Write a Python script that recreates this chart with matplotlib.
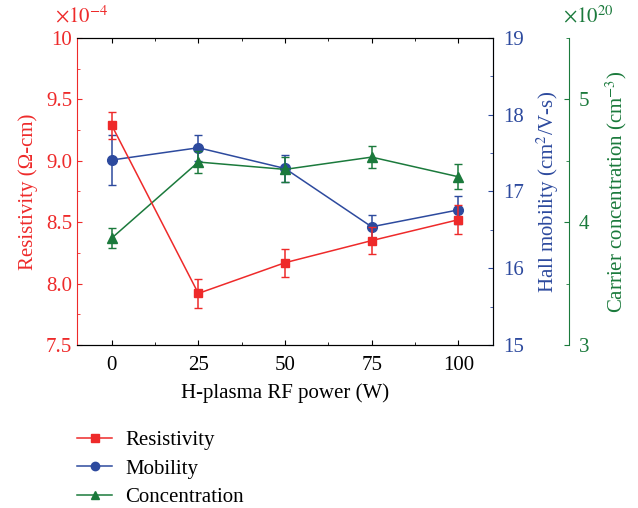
import numpy as np
import matplotlib
matplotlib.use("Agg")
import matplotlib.pyplot as plt
from matplotlib.ticker import MultipleLocator
from matplotlib.lines import Line2D

plt.rcParams['font.family'] = ['Liberation Serif', 'DejaVu Serif']
plt.rcParams['mathtext.fontset'] = 'stix'

# data
power = [0, 25, 50, 75, 100]
resistivity = [9.29, 7.92, 8.17, 8.35, 8.52]      # x1e-4 ohm-cm
resistivity_err = [0.11, 0.12, 0.115, 0.11, 0.12]
mobility = [17.41, 17.57, 17.30, 16.54, 16.76]    # cm2/V-s
mobility_err = [0.32, 0.17, 0.18, 0.15, 0.18]
concentration = [3.87, 4.49, 4.43, 4.53, 4.37]    # x1e20 cm-3
concentration_err = [0.08, 0.09, 0.10, 0.09, 0.10]
labels = ["Resistivity", "Mobility", "Concentration"]

red = "#ee2a2a"
blue = "#2d4a9e"
green = "#1b7a3c"
fs = 15

fig = plt.figure(figsize=(6.38, 5.08), dpi=100)
ax = fig.add_axes([0.1207, 0.3209, 0.652, 0.6043])
ax2 = ax.twinx()
ax3 = ax.twinx()

ax.errorbar(power, resistivity, yerr=resistivity_err, color=red, marker='s', ms=6,
            lw=1.1, capsize=3, elinewidth=1.1, zorder=3)
ax2.errorbar(power, mobility, yerr=mobility_err, color=blue, marker='o', ms=7,
             lw=1.1, capsize=3, elinewidth=1.1)
ax3.errorbar(power, concentration, yerr=concentration_err, color=green, marker='^', ms=7.5,
             lw=1.1, capsize=3, elinewidth=1.1)

ax.set_xlim(-10, 110)
ax.set_xticks(power)
ax.xaxis.set_minor_locator(MultipleLocator(12.5))
ax.set_xlabel("H-plasma RF power (W)", fontsize=fs, labelpad=6)

ax.set_ylim(7.5, 10)
ax.set_yticks([7.5, 8.0, 8.5, 9.0, 9.5, 10])
ax.set_yticklabels(['7.5', '8.0', '8.5', '9.0', '9.5', '10'])
ax.yaxis.set_minor_locator(MultipleLocator(0.25))
ax.set_ylabel("Resistivity (Ω-cm)", color=red, fontsize=fs, labelpad=6)
ax.tick_params(axis='y', which='both', colors=red, direction='in', labelsize=fs)
ax.tick_params(axis='x', which='both', direction='in', labelsize=fs, top=True, pad=8)
ax.spines['left'].set_color(red)
ax.text(-0.053, 1.035, r'$\times10^{-4}$', transform=ax.transAxes, color=red,
        fontsize=fs, ha='left', va='bottom')

ax2.set_ylim(15, 19)
ax2.set_yticks([15, 16, 17, 18, 19])
ax2.yaxis.set_minor_locator(MultipleLocator(0.5))
ax2.tick_params(axis='y', which='both', colors=blue, direction='in', labelsize=fs, pad=7)
ax2.spines['right'].set_color(blue)
ax2.spines['left'].set_visible(False)
ax2.set_ylabel(r"Hall mobility (cm$^2$/V-s)", color=blue, fontsize=fs, labelpad=8)

ax3.spines['right'].set_position(('axes', 1.183))
ax3.spines['right'].set_color(green)
ax3.spines['left'].set_visible(False)
ax3.spines['top'].set_visible(False)
ax3.spines['bottom'].set_visible(False)
ax3.set_ylim(3, 5.5)
ax3.set_yticks([3, 4, 5])
ax3.yaxis.set_minor_locator(MultipleLocator(0.5))
ax3.tick_params(axis='y', which='both', colors=green, direction='in', labelsize=fs, pad=7)
ax3.set_ylabel(r"Carrier concentration (cm$^{-3}$)", color=green, fontsize=fs, labelpad=10)
ax3.text(1.168, 1.035, r'$\times10^{20}$', transform=ax.transAxes, color=green,
         fontsize=fs, ha='left', va='bottom')

ax.set_zorder(3)
ax.patch.set_visible(False)

handles = [Line2D([], [], color=c, marker=m, ms=6, lw=1.1)
           for c, m in zip([red, blue, green], ['s', 'o', '^'])]
fig.legend(handles, labels, loc='upper left', bbox_to_anchor=(0.1207, 0.152),
           frameon=False, fontsize=fs, handlelength=1.7, labelspacing=0.42,
           handletextpad=0.6, borderpad=0, borderaxespad=0)

fig.savefig("out.png", dpi=100)
